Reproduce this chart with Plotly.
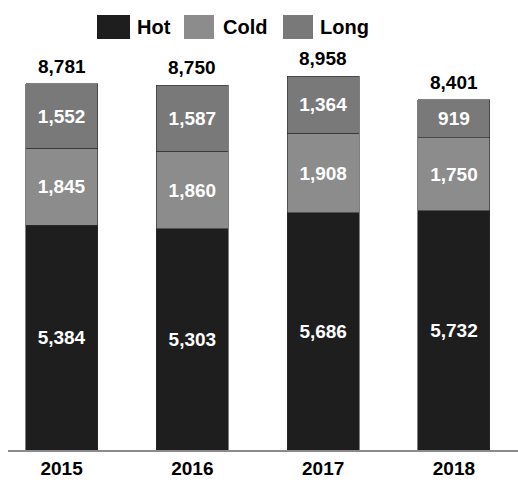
import plotly.graph_objects as go

years = ["2015", "2016", "2017", "2018"]
hot = [5384, 5303, 5686, 5732]
cold = [1845, 1860, 1908, 1750]
long_ = [1552, 1587, 1364, 919]
totals = [h + c + l for h, c, l in zip(hot, cold, long_)]

def fmt(v):
    return f"{v:,}"

FONT = "Liberation Sans, Arial, sans-serif"
colors = {"Hot": "#1e1e1e", "Cold": "#8c8c8c", "Long": "#797979"}

fig = go.Figure()
for name, vals in [("Hot", hot), ("Cold", cold), ("Long", long_)]:
    fig.add_trace(go.Bar(
        x=years, y=vals, name=name,
        marker=dict(color=colors[name], line=dict(color="#2a2a2a", width=0.6)),
        text=[fmt(v) for v in vals], textposition="inside", insidetextanchor="middle",
        textfont=dict(color="white", size=19, family=FONT, weight="bold"),
        showlegend=False,
    ))

for i, tot in enumerate(totals):
    fig.add_annotation(x=i, y=tot, xref="x", yref="y", text=fmt(tot), showarrow=False,
                       yanchor="bottom", yshift=5,
                       font=dict(color="black", size=19, family=FONT, weight="bold"))

# custom legend (large swatches)
legend_items = [("Hot", 97, 130, 135), ("Cold", 184, 214, 221), ("Long", 283, 313, 318)]
W, H = 518, 482
for name, x0, x1, tx in legend_items:
    fig.add_shape(type="rect", xref="paper", yref="paper",
                  x0=(x0 - 8) / (W - 8), x1=(x1 - 8) / (W - 8),
                  y0=(450 - 39) / 410, y1=(450 - 15) / 410,
                  fillcolor=colors[name], line=dict(width=0))
    fig.add_annotation(xref="paper", yref="paper", x=(tx - 8) / (W - 8), y=(450 - 27) / 410,
                       text=name, showarrow=False, xanchor="left", yanchor="middle",
                       font=dict(color="black", size=20, family=FONT, weight="bold"))

fig.update_layout(
    width=W, height=H, barmode="stack", bargap=0.45,
    margin=dict(l=8, r=0, t=40, b=32),
    plot_bgcolor="white", paper_bgcolor="white",
    uniformtext=dict(mode="show", minsize=8),
    xaxis=dict(type="category", range=[-0.41, 3.49], showline=True, linecolor="#8a8a8a", linewidth=2,
               ticks="", tickfont=dict(color="black", size=19, family=FONT, weight="bold")),
    yaxis=dict(range=[0, 9830], visible=False, showgrid=False),
)

fig.write_html("out.html")
